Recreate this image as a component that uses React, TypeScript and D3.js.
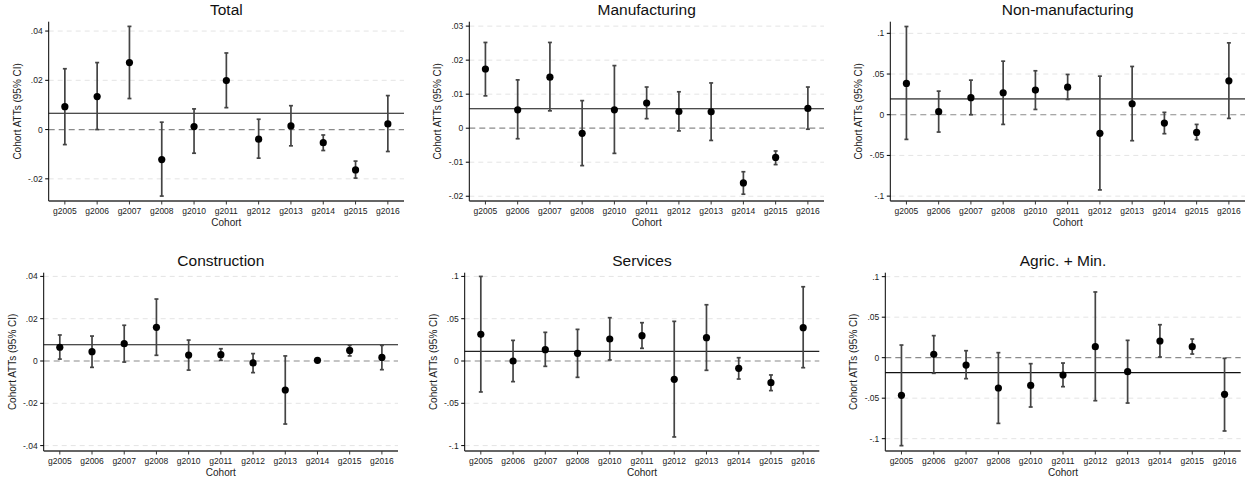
import React from "react";
import * as d3 from "d3";

const cohorts = ["g2005", "g2006", "g2007", "g2008", "g2010", "g2011", "g2012", "g2013", "g2014", "g2015", "g2016"];

// Total
const totalEst = [0.0093, 0.0134, 0.0272, -0.0122, 0.0012, 0.0199, -0.0039, 0.0015, -0.0053, -0.0164, 0.0023];
const totalLo = [-0.0061, 0.0, 0.0126, -0.027, -0.0096, 0.0089, -0.0116, -0.0066, -0.0085, -0.0197, -0.0089];
const totalHi = [0.0247, 0.0272, 0.0419, 0.003, 0.0084, 0.0311, 0.0042, 0.0097, -0.0022, -0.0128, 0.0138];
const totalMean = 0.0066;
const totalTicks = [-0.02, 0, 0.02, 0.04];
const totalTickLabels = ["-.02", "0", ".02", ".04"];

// Manufacturing
const manufEst = [0.0174, 0.0054, 0.015, -0.0015, 0.0054, 0.0074, 0.0049, 0.0048, -0.0161, -0.0086, 0.0058];
const manufLo = [0.0095, -0.0031, 0.0051, -0.011, -0.0074, 0.0028, -0.0008, -0.0036, -0.0194, -0.0107, -0.0003];
const manufHi = [0.0252, 0.0142, 0.0252, 0.0081, 0.0184, 0.0121, 0.0107, 0.0133, -0.0128, -0.0067, 0.0121];
const manufMean = 0.0057;
const manufTicks = [-0.02, -0.01, 0, 0.01, 0.02, 0.03];
const manufTickLabels = ["-.02", "-.01", "0", ".01", ".02", ".03"];

// Non-manufacturing
const nonManufEst = [0.0384, 0.0037, 0.0209, 0.027, 0.0303, 0.0339, -0.0229, 0.0135, -0.0102, -0.0217, 0.0417];
const nonManufLo = [-0.0303, -0.0213, 0.0, -0.0119, 0.0065, 0.0188, -0.0924, -0.0319, -0.0233, -0.0307, -0.0045];
const nonManufHi = [0.1084, 0.029, 0.0425, 0.0658, 0.054, 0.0495, 0.0474, 0.0593, 0.0029, -0.0119, 0.0883];
const nonManufMean = 0.0196;
const wideTicks = [-0.1, -0.05, 0, 0.05, 0.1];
const wideTickLabels = ["-.1", "-.05", "0", ".05", ".1"];

// Construction
const constrEst = [0.0065, 0.0044, 0.0082, 0.0159, 0.0028, 0.003, -0.0009, -0.0137, 0.0003, 0.005, 0.0017];
const constrLo = [0.0009, -0.003, -0.0005, 0.0027, -0.0043, 0.0003, -0.0055, -0.0298, 0.0001, 0.0024, -0.0041];
const constrHi = [0.0123, 0.0118, 0.0169, 0.0293, 0.0099, 0.0058, 0.0035, 0.0024, 0.0005, 0.0074, 0.0074];
const constrMean = 0.0077;
const constrTicks = [-0.04, -0.02, 0, 0.02, 0.04];
const constrTickLabels = ["-.04", "-.02", "0", ".02", ".04"];

// Services
const servEst = [0.0315, 0.0, 0.0134, 0.0091, 0.026, 0.0299, -0.0217, 0.0276, -0.0087, -0.0256, 0.0394];
const servLo = [-0.0366, -0.0244, -0.0063, -0.0193, 0.0012, 0.015, -0.0898, -0.011, -0.0213, -0.035, -0.0079];
const servHi = [0.1, 0.0244, 0.0339, 0.0374, 0.0512, 0.0453, 0.0469, 0.0665, 0.0039, -0.0165, 0.0878];
const servMean = 0.0114;

// Agric. + Min.
const agriEst = [-0.0465, 0.0041, -0.0091, -0.0374, -0.0342, -0.0214, 0.0136, -0.0173, 0.0206, 0.0136, -0.0453];
const agriLo = [-0.1086, -0.0193, -0.0259, -0.0811, -0.0609, -0.0358, -0.0531, -0.056, 0.0008, 0.0045, -0.0905];
const agriHi = [0.0156, 0.0272, 0.0086, 0.0062, -0.0074, -0.0066, 0.0811, 0.0214, 0.0407, 0.023, -0.0008];
const agriMean = -0.0185;

const panelTitles = ["Total", "Manufacturing", "Non-manufacturing", "Construction", "Services", "Agric. + Min."];

const panels = [
  { title: panelTitles[0], est: totalEst, lo: totalLo, hi: totalHi, mean: totalMean, ticks: totalTicks, labels: totalTickLabels, domain: [-0.029, 0.0438], box: { l: 48.7, r: 404, t: 21.7, b: 201 }, meanStroke: "#111", meanWidth: 1.1 },
  { title: panelTitles[1], est: manufEst, lo: manufLo, hi: manufHi, mean: manufMean, ticks: manufTicks, labels: manufTickLabels, domain: [-0.0214, 0.0313], box: { l: 469.3, r: 824, t: 21.7, b: 201 }, meanStroke: "#111", meanWidth: 1.1 },
  { title: panelTitles[2], est: nonManufEst, lo: nonManufLo, hi: nonManufHi, mean: nonManufMean, ticks: wideTicks, labels: wideTickLabels, domain: [-0.106, 0.1143], box: { l: 890.3, r: 1245, t: 21.7, b: 201 }, meanStroke: "#666", meanWidth: 1.8 },
  { title: panelTitles[3], est: constrEst, lo: constrLo, hi: constrHi, mean: constrMean, ticks: constrTicks, labels: constrTickLabels, domain: [-0.04255, 0.04175], box: { l: 43.7, r: 398, t: 272.7, b: 451 }, meanStroke: "#111", meanWidth: 1.1 },
  { title: panelTitles[4], est: servEst, lo: servLo, hi: servHi, mean: servMean, ticks: wideTicks, labels: wideTickLabels, domain: [-0.1064, 0.1044], box: { l: 464.7, r: 819.3, t: 272.7, b: 451 }, meanStroke: "#222", meanWidth: 1.1 },
  { title: panelTitles[5], est: agriEst, lo: agriLo, hi: agriHi, mean: agriMean, ticks: wideTicks, labels: wideTickLabels, domain: [-0.1152, 0.1049], box: { l: 885.3, r: 1240.7, t: 272.7, b: 451 }, meanStroke: "#111", meanWidth: 1.1 },
];

const FONT = "'Liberation Sans', Arial, Helvetica, sans-serif";

function Panel({ p }: { p: any }) {
  const { l, r, t, b } = p.box;
  const x = d3.scaleBand<string>().domain(cohorts).range([l, r]).paddingInner(0).paddingOuter(0);
  const cx = (c: string) => (x(c) as number) + x.bandwidth() / 2;
  const y = d3.scaleLinear().domain(p.domain).range([b, t]);
  const midY = (t + b) / 2;
  return (
    <g>
      {p.ticks.map((v: number, i: number) =>
        v === 0 ? null : (
          <line key={"g" + i} x1={l} x2={r} y1={y(v)} y2={y(v)} stroke="#e4e4e4" strokeWidth={1} strokeDasharray="5,4" />
        )
      )}
      <line x1={l} x2={r} y1={y(0)} y2={y(0)} stroke="#8a8a8a" strokeWidth={1.2} strokeDasharray="6,4" />
      <line x1={l} x2={r} y1={y(p.mean)} y2={y(p.mean)} stroke={p.meanStroke} strokeWidth={p.meanWidth} />
      {cohorts.map((c, i) => (
        <g key={"e" + i}>
          <line x1={cx(c)} x2={cx(c)} y1={y(p.lo[i])} y2={y(p.hi[i])} stroke="#444" strokeWidth={1.7} />
          <line x1={cx(c) - 2} x2={cx(c) + 2} y1={y(p.lo[i])} y2={y(p.lo[i])} stroke="#444" strokeWidth={1.7} />
          <line x1={cx(c) - 2} x2={cx(c) + 2} y1={y(p.hi[i])} y2={y(p.hi[i])} stroke="#444" strokeWidth={1.7} />
          <circle cx={cx(c)} cy={y(p.est[i])} r={3.6} fill="#000" />
        </g>
      ))}
      <line x1={l} x2={l} y1={t} y2={b} stroke="#000" strokeWidth={1} />
      {p.ticks.map((v: number, i: number) => (
        <g key={"yt" + i}>
          <line x1={l - 3.5} x2={l} y1={y(v)} y2={y(v)} stroke="#000" strokeWidth={1} />
          <text x={l - 6} y={y(v)} dy="0.35em" textAnchor="end" fontSize={8.5} fill="#222" fontFamily={FONT}>
            {p.labels[i]}
          </text>
        </g>
      ))}
      <line x1={l} x2={r} y1={b} y2={b} stroke="#333" strokeWidth={1.3} />
      {cohorts.map((c, i) => (
        <g key={"xt" + i}>
          <line x1={cx(c)} x2={cx(c)} y1={b} y2={b + 3.5} stroke="#333" strokeWidth={1} />
          <text x={cx(c)} y={b + 12.5} textAnchor="middle" fontSize={8.5} fill="#222" fontFamily={FONT}>
            {c}
          </text>
        </g>
      ))}
      <text x={(l + r) / 2} y={b + 24.7} textAnchor="middle" fontSize={10} fill="#222" fontFamily={FONT}>
        Cohort
      </text>
      <text
        transform={`translate(${l - 28},${midY}) rotate(-90)`}
        textAnchor="middle"
        fontSize={10}
        fill="#222"
        fontFamily={FONT}
      >
        Cohort ATTs (95% CI)
      </text>
      <text x={(l + r) / 2} y={t - 7} textAnchor="middle" fontSize={15.5} fill="#111" fontFamily={FONT}>
        {p.title}
      </text>
    </g>
  );
}

export default function App() {
  return (
    <svg width={1250} height={482} style={{ position: "absolute", left: 0, top: 0, background: "#fff" }}>
      <rect width={1250} height={482} fill="#fff" />
      {panels.map((p, i) => (
        <Panel key={i} p={p} />
      ))}
    </svg>
  );
}
